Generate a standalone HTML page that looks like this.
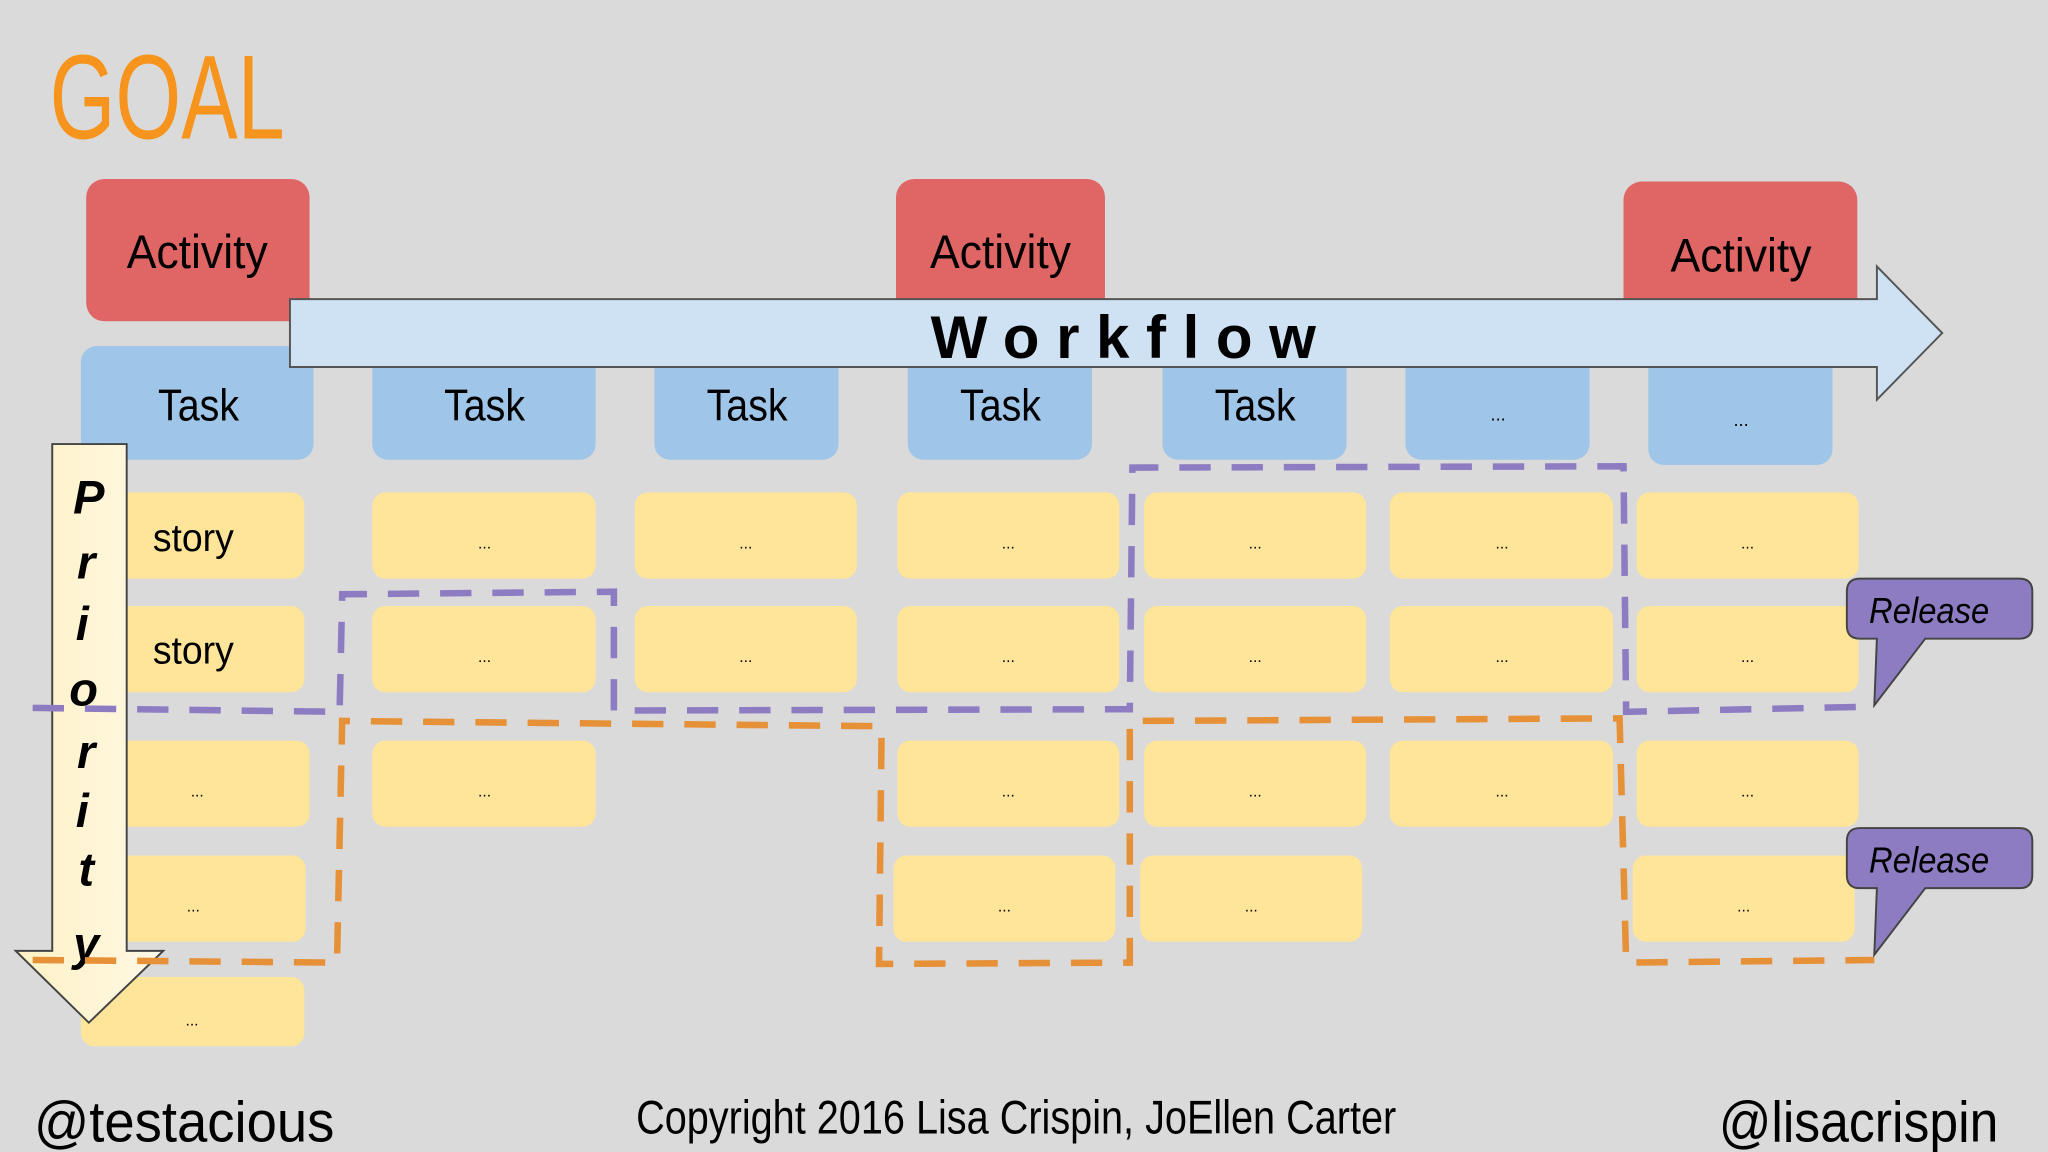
<!DOCTYPE html>
<html><head><meta charset="utf-8"><style>
html,body{margin:0;padding:0;background:#dadada;}
svg{display:block}
text{font-family:"Liberation Sans Narrow","Liberation Sans",sans-serif;}
</style></head><body>
<svg width="2048" height="1152" viewBox="0 0 1568 882" xmlns="http://www.w3.org/2000/svg">
<rect width="1568" height="882" fill="#dadada"/>
<text x="38" y="106" font-size="92" fill="#f7941d" textLength="180" lengthAdjust="spacingAndGlyphs">GOAL</text>

<g fill="#e06666">
<rect x="66" y="137" width="171" height="109" rx="14"/>
<rect x="686" y="137" width="160" height="110" rx="14"/>
<rect x="1243" y="139" width="179" height="110" rx="14"/>
</g>
<g font-size="36" fill="#000" text-anchor="middle">
<text x="151" y="205" textLength="108" lengthAdjust="spacingAndGlyphs">Activity</text>
<text x="766" y="205" textLength="108" lengthAdjust="spacingAndGlyphs">Activity</text>
<text x="1333" y="208" textLength="108" lengthAdjust="spacingAndGlyphs">Activity</text>
</g>

<g fill="#9fc5e8">
<rect x="62" y="265" width="178" height="87" rx="12"/>
<rect x="285" y="265" width="171" height="87" rx="12"/>
<rect x="501" y="265" width="141" height="87" rx="12"/>
<rect x="695" y="265" width="141" height="87" rx="12"/>
<rect x="890" y="265" width="141" height="87" rx="12"/>
<rect x="1076" y="265" width="141" height="87" rx="12"/>
<rect x="1262" y="265" width="141" height="91" rx="12"/>
</g>
<g font-size="34" text-anchor="middle">
<text x="152" y="322" textLength="62" lengthAdjust="spacingAndGlyphs">Task</text>
<text x="371" y="322" textLength="62" lengthAdjust="spacingAndGlyphs">Task</text>
<text x="572" y="322" textLength="62" lengthAdjust="spacingAndGlyphs">Task</text>
<text x="766" y="322" textLength="62" lengthAdjust="spacingAndGlyphs">Task</text>
<text x="961" y="322" textLength="62" lengthAdjust="spacingAndGlyphs">Task</text>
<text x="1147" y="322" font-size="14">...</text>
<text x="1333" y="326" font-size="14">...</text>
</g>

<path d="M222 229 H1437 V204 L1487 255 L1437 306 V281 H222 Z" fill="#cfe2f3" stroke="#555" stroke-width="1.5"/>
<text x="860" y="274" font-size="46" font-weight="bold" text-anchor="middle" font-family="Liberation Sans" textLength="295" lengthAdjust="spacing">Workflow</text>

<g fill="#ffe599">
<rect x="62" y="377" width="171" height="66" rx="10"/>
<rect x="285" y="377" width="171" height="66" rx="10"/>
<rect x="486" y="377" width="170" height="66" rx="10"/>
<rect x="687" y="377" width="170" height="66" rx="10"/>
<rect x="876" y="377" width="170" height="66" rx="10"/>
<rect x="1064" y="377" width="171" height="66" rx="10"/>
<rect x="1253" y="377" width="170" height="66" rx="10"/>

<rect x="62" y="464" width="171" height="66" rx="10"/>
<rect x="285" y="464" width="171" height="66" rx="10"/>
<rect x="486" y="464" width="170" height="66" rx="10"/>
<rect x="687" y="464" width="170" height="66" rx="10"/>
<rect x="876" y="464" width="170" height="66" rx="10"/>
<rect x="1064" y="464" width="171" height="66" rx="10"/>
<rect x="1253" y="464" width="170" height="66" rx="10"/>

<rect x="62" y="567" width="175" height="66" rx="10"/>
<rect x="285" y="567" width="171" height="66" rx="10"/>
<rect x="687" y="567" width="170" height="66" rx="10"/>
<rect x="876" y="567" width="170" height="66" rx="10"/>
<rect x="1064" y="567" width="171" height="66" rx="10"/>
<rect x="1253" y="567" width="170" height="66" rx="10"/>

<rect x="62" y="655" width="172" height="66" rx="10"/>
<rect x="684" y="655" width="170" height="66" rx="10"/>
<rect x="873" y="655" width="170" height="66" rx="10"/>
<rect x="1250" y="655" width="170" height="66" rx="10"/>

<rect x="62" y="748" width="171" height="53" rx="10"/>
</g>
<g font-size="12" text-anchor="middle">
<text x="371" y="420">...</text><text x="571" y="420">...</text><text x="772" y="420">...</text><text x="961" y="420">...</text><text x="1150" y="420">...</text><text x="1338" y="420">...</text>
<text x="371" y="507">...</text><text x="571" y="507">...</text><text x="772" y="507">...</text><text x="961" y="507">...</text><text x="1150" y="507">...</text><text x="1338" y="507">...</text>
<text x="151" y="610">...</text><text x="371" y="610">...</text><text x="772" y="610">...</text><text x="961" y="610">...</text><text x="1150" y="610">...</text><text x="1338" y="610">...</text>
<text x="148" y="698">...</text><text x="769" y="698">...</text><text x="958" y="698">...</text><text x="1335" y="698">...</text>
<text x="147" y="785">...</text>
</g>
<g font-size="30">
<text x="117" y="422" textLength="62" lengthAdjust="spacingAndGlyphs">story</text>
<text x="117" y="508" textLength="62" lengthAdjust="spacingAndGlyphs">story</text>
</g>

<defs><linearGradient id="pg" x1="0" x2="1"><stop offset="0" stop-color="#fff2c4"/><stop offset="1" stop-color="#fff8e6"/></linearGradient></defs>
<path d="M40 340 H97 V728 H125 L68 783 L12 728 H40 Z" fill="url(#pg)" stroke="#444" stroke-width="1.5"/>
<g font-size="36" font-weight="bold" font-style="italic" text-anchor="middle" font-family="Liberation Sans">
<text x="68" y="393">P</text><text x="66" y="443">r</text><text x="63" y="490">i</text><text x="64" y="540">o</text><text x="66" y="588">r</text><text x="63" y="633">i</text><text x="66" y="678">t</text><text x="66" y="735">y</text>
</g>

<g fill="none" stroke-width="5" stroke-dasharray="24 16">
<path d="M25 542 L260 545 L262 455 L470 453 L470 544 L865 543 L867 358 L1243 357 L1245 545 L1435 541" stroke="#8e7cc3"/>
<path d="M25 735 L258 737 L262 552 L675 556 L673 738 L865 737 L865 552 L1240 550 L1245 737 L1435 735" stroke="#e69138"/>
</g>

<g fill="#8e7cc3" stroke="#444" stroke-width="1.5">
<path d="M1424 443 H1546 Q1556 443 1556 453 V479 Q1556 489 1546 489 H1474 L1435 540 L1437 489 H1424 Q1414 489 1414 479 V453 Q1414 443 1424 443 Z"/>
<path d="M1424 634 H1546 Q1556 634 1556 644 V670 Q1556 680 1546 680 H1474 L1435 731 L1437 680 H1424 Q1414 680 1414 670 V644 Q1414 634 1424 634 Z"/>
</g>
<g font-size="28" font-style="italic">
<text x="1431" y="477" textLength="92" lengthAdjust="spacingAndGlyphs">Release</text>
<text x="1431" y="668" textLength="92" lengthAdjust="spacingAndGlyphs">Release</text>
</g>

<g font-size="44">
<text x="26" y="874" textLength="230" lengthAdjust="spacingAndGlyphs">@testacious</text>
<text x="1316" y="874" textLength="214" lengthAdjust="spacingAndGlyphs">@lisacrispin</text>
</g>
<text x="487" y="868" font-size="36" textLength="582" lengthAdjust="spacingAndGlyphs">Copyright 2016 Lisa Crispin, JoEllen Carter</text>
</svg>
</body></html>
